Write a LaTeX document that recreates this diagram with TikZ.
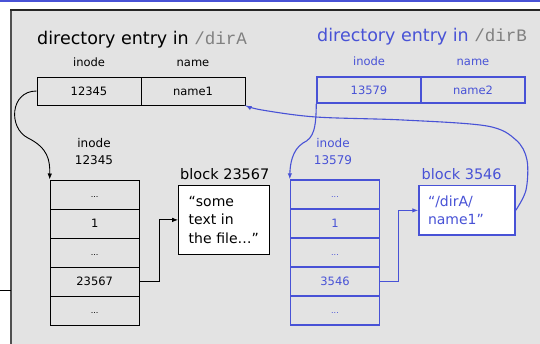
\documentclass[tikz,border=0pt]{standalone}
\usepackage{fontspec}
\setmainfont{DejaVu Sans}
\newfontfamily\codefont{Liberation Mono}
\usetikzlibrary{arrows.meta}
\definecolor{panelgray}{RGB}{227,227,227}
\definecolor{dirblue}{RGB}{72,82,214}
\definecolor{codegray}{RGB}{128,128,128}
\definecolor{edgegray}{RGB}{80,80,80}

\tikzset{
  fsize/.style={font=\fontsize{#1}{#1}\selectfont},
  entrycell/.style={draw, line width=1pt, minimum width=104pt, minimum height=28pt,
    inner sep=0pt, fsize=11.5},
  rowcell/.style={draw, line width=1pt, minimum width=89pt, minimum height=29pt,
    inner sep=0pt, fsize=11.5},
  dotcell/.style={rowcell, fsize=8},
  colhead/.style={anchor=base, inner sep=0pt, fsize=11.5},
  title/.style={anchor=base west, inner sep=0pt, fsize=17.5},
  inodelabel/.style={align=center, inner sep=0pt, font=\fontsize{12}{16.3}\selectfont},
  blocklabel/.style={anchor=base west, inner sep=0pt, fsize=14.5},
  blockbox/.style={draw, fill=white, line width=1pt, align=left, inner ysep=0pt,
    font=\fontsize{14}{18.5}\selectfont},
  bluepart/.style={draw=dirblue, text=dirblue, line width=1.4pt},
  ptr/.style={line width=0.9pt, -{Latex[length=6pt,width=4.5pt]}},
  blueptr/.style={ptr, draw=dirblue, line width=1.1pt, -{Latex[length=6pt,width=4.5pt]}, dirblue}
}

\begin{document}
\begin{tikzpicture}[x=1pt,y=-1pt]
\useasboundingbox (0,0) rectangle (540,343);

% page chrome: rule along the top, grey panel, stray rule at the left
\draw[dirblue, line width=1.6pt] (0,0.8) -- (540,0.8);
\fill[panelgray] (11,10) rectangle (545,350);
\draw[edgegray, line width=2pt] (11,350) -- (11,10);
\draw[black!85, line width=1.4pt] (10,10) -- (545,10);
\draw[line width=0.8pt] (0,290) -- (11,290);

% directory entry in /dirA
\node[title] (titleA) at (37,44) {directory entry in {\codefont\color{codegray}/dirA}};
\node[colhead] (hAi) at (89,66.5) {inode};
\node[colhead] (hAn) at (193,66.5) {name};
\node[entrycell] (eAi) at (89,91) {12345};
\node[entrycell] (eAn) at (193,91) {name1};

% directory entry in /dirB
\node[title, text=dirblue] (titleB) at (317,41.5) {directory entry in {\codefont\color{codegray}/dirB}};
\node[colhead, text=dirblue] (hBi) at (369,65) {inode};
\node[colhead, text=dirblue] (hBn) at (473,65) {name};
\node[entrycell, bluepart, minimum height=26pt] (eBi) at (369,90) {13579};
\node[entrycell, bluepart, minimum height=26pt] (eBn) at (473,90) {name2};

% inode 12345
\node[inodelabel] (labA) at (94,151.5) {inode\\12345};
\node[dotcell] (a1) at (94.7,194.5) {\vphantom{1}...};
\node[rowcell] (a2) at (94.7,223.5) {1};
\node[dotcell] (a3) at (94.7,252.5) {\vphantom{1}...};
\node[rowcell] (a4) at (94.7,281.5) {23567};
\node[dotcell] (a5) at (94.7,310.5) {\vphantom{1}...};

% inode 13579
\node[inodelabel, text=dirblue] (labB) at (333,151.5) {inode\\13579};
\node[dotcell, bluepart] (b1) at (335,194.5) {\vphantom{1}...};
\node[rowcell, bluepart] (b2) at (335,223.5) {1};
\node[dotcell, bluepart] (b3) at (335,252.5) {\vphantom{1}...};
\node[rowcell, bluepart] (b4) at (335,281.5) {3546};
\node[dotcell, bluepart] (b5) at (335,310.5) {\vphantom{1}...};

% data blocks
\node[blocklabel] (blkAlab) at (180,179) {block 23567};
\node[blockbox, text width=71.3pt, inner xsep=10pt, minimum height=68.3pt] (blkA) at (224.3,219.9)
  {“some\\text in\\the file…”};
\node[blocklabel, text=dirblue] (blkBlab) at (421.5,179) {block 3546};
\node[blockbox, bluepart, text width=78pt, inner xsep=9pt, minimum height=49.3pt] (blkB) at (467,210.4)
  {“/dirA/\\name1”};

% block pointers
\draw[ptr] (a4.east) -- (159,281.5) |- (blkA.west);
\draw[blueptr] (b4.east) -- (398.5,281.5) |- (blkB.west);

% directory entries to their inodes
\draw[ptr] (eAi.west) .. controls (10,91) and (8,128) .. (28,138)
  .. controls (48,148) and (50,160) .. (a1.north west);
\draw[blueptr] (eBi.south west) .. controls (316,128) and (314,138) .. (303,143)
  .. controls (292,150) and (290,165) .. (b1.north west);

% symlink contents pointing back at the /dirA entry
\draw[blueptr] plot[smooth, tension=0.55] coordinates {(blkB.east) (526,190) (527,160) (516,140)
  (487,126) (403,120) (316,117) (262,110) (eAn.south east)};
\end{tikzpicture}
\end{document}
